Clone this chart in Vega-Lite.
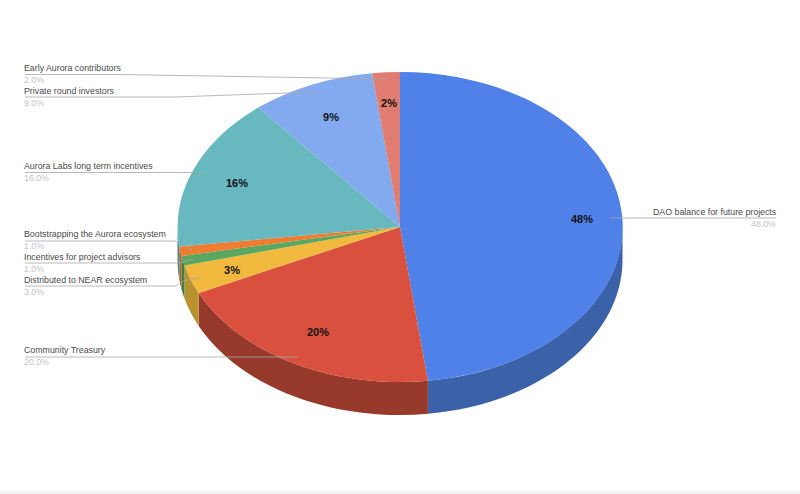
{
  "$schema": "https://vega.github.io/schema/vega-lite/v6.json",
  "width": 800,
  "height": 494,
  "autosize": {"type": "fit", "contains": "padding"},
  "padding": 0,
  "background": "#ffffff",
  "view": {"stroke": null},
  "datasets": {
    "slices": [
      {"name": "DAO balance for future projects", "share": 0.48},
      {"name": "Community Treasury", "share": 0.20},
      {"name": "Distributed to NEAR ecosystem", "share": 0.03},
      {"name": "Incentives for project advisors", "share": 0.01},
      {"name": "Bootstrapping the Aurora ecosystem", "share": 0.01},
      {"name": "Aurora Labs long term incentives", "share": 0.16},
      {"name": "Private round investors", "share": 0.09},
      {"name": "Early Aurora contributors", "share": 0.02}
    ],
    "anchors": [
      {"name": "DAO balance for future projects", "labelX": 653, "labelY": 215, "valueX": 751, "pctX": 582, "pctY": 223},
      {"name": "Community Treasury", "labelX": 24, "labelY": 353, "valueX": 24, "pctX": 318, "pctY": 336},
      {"name": "Distributed to NEAR ecosystem", "labelX": 24, "labelY": 283, "valueX": 24, "pctX": 232, "pctY": 274},
      {"name": "Incentives for project advisors", "labelX": 24, "labelY": 260, "valueX": 24},
      {"name": "Bootstrapping the Aurora ecosystem", "labelX": 24, "labelY": 237, "valueX": 24},
      {"name": "Aurora Labs long term incentives", "labelX": 24, "labelY": 169, "valueX": 24, "pctX": 237, "pctY": 187},
      {"name": "Private round investors", "labelX": 24, "labelY": 94, "valueX": 24, "pctX": 331, "pctY": 121},
      {"name": "Early Aurora contributors", "labelX": 24, "labelY": 71, "valueX": 24, "pctX": 389, "pctY": 107}
    ],
    "leaders": [
      {"name": "Early Aurora contributors", "step": 1, "px": 25, "py": 74.5},
      {"name": "Early Aurora contributors", "step": 2, "px": 120, "py": 74.5},
      {"name": "Early Aurora contributors", "step": 3, "px": 387, "py": 79},
      {"name": "Private round investors", "step": 1, "px": 25, "py": 97},
      {"name": "Private round investors", "step": 2, "px": 175, "py": 97},
      {"name": "Private round investors", "step": 3, "px": 316, "py": 92},
      {"name": "Aurora Labs long term incentives", "step": 1, "px": 25, "py": 172.5},
      {"name": "Aurora Labs long term incentives", "step": 2, "px": 204, "py": 172.5},
      {"name": "Bootstrapping the Aurora ecosystem", "step": 1, "px": 25, "py": 241},
      {"name": "Bootstrapping the Aurora ecosystem", "step": 2, "px": 175, "py": 241},
      {"name": "Bootstrapping the Aurora ecosystem", "step": 3, "px": 178, "py": 243},
      {"name": "Bootstrapping the Aurora ecosystem", "step": 4, "px": 192, "py": 250},
      {"name": "Incentives for project advisors", "step": 1, "px": 25, "py": 263},
      {"name": "Incentives for project advisors", "step": 2, "px": 180, "py": 263},
      {"name": "Incentives for project advisors", "step": 3, "px": 193, "py": 259},
      {"name": "Distributed to NEAR ecosystem", "step": 1, "px": 25, "py": 286},
      {"name": "Distributed to NEAR ecosystem", "step": 2, "px": 176, "py": 286},
      {"name": "Distributed to NEAR ecosystem", "step": 3, "px": 183, "py": 281},
      {"name": "Distributed to NEAR ecosystem", "step": 4, "px": 202, "py": 277},
      {"name": "Community Treasury", "step": 1, "px": 25, "py": 357},
      {"name": "Community Treasury", "step": 2, "px": 298, "py": 357},
      {"name": "DAO balance for future projects", "step": 1, "px": 610, "py": 218},
      {"name": "DAO balance for future projects", "step": 2, "px": 776, "py": 218}
    ]
  },
  "resolve": {"scale": {"shape": "independent", "color": "independent"}},
  "layer": [
    {
      "data": {"values": [{"band": "footer"}]},
      "mark": {"type": "rect", "color": "#f3f3f3"},
      "encoding": {
        "x": {"datum": 0, "type": "quantitative", "scale": {"domain": [0, 800], "nice": false, "zero": false}, "axis": null},
        "x2": {"datum": 800},
        "y": {"datum": 491, "type": "quantitative", "scale": {"domain": [0, 494], "reverse": true, "nice": false, "zero": false}, "axis": null},
        "y2": {"datum": 494}
      }
    },
    {
      "data": {"name": "slices"},
      "mark": {"type": "point", "filled": true, "size": 4, "opacity": 1, "strokeWidth": 0},
      "encoding": {
        "x": {"datum": 400, "type": "quantitative", "scale": {"domain": [0, 800], "nice": false, "zero": false}, "axis": null},
        "y": {"datum": 227, "type": "quantitative", "scale": {"domain": [0, 494], "reverse": true, "nice": false, "zero": false}, "axis": null},
        "color": {
          "field": "name", "type": "nominal", "legend": null,
          "scale": {
            "domain": ["DAO balance for future projects", "Community Treasury", "Distributed to NEAR ecosystem", "Incentives for project advisors", "Bootstrapping the Aurora ecosystem", "Aurora Labs long term incentives", "Private round investors", "Early Aurora contributors"],
            "range": ["#3b62a8", "#97392b", "#b8922e", "#3f7f45", "#b35f26", "#4f8a90", "#6580b4", "#a85e55"]
          }
        },
        "shape": {
          "field": "name", "type": "nominal", "legend": null,
          "scale": {
            "domain": ["DAO balance for future projects", "Community Treasury", "Distributed to NEAR ecosystem", "Incentives for project advisors", "Bootstrapping the Aurora ecosystem", "Aurora Labs long term incentives", "Private round investors", "Early Aurora contributors"],
            "range": [
              "M222.5 0A222.5 155 0 0 1 27.9 153.8L27.9 186.8A222.5 155 0 0 0 222.5 33Z",
              "M27.9 153.8A222.5 155 0 0 1 -201.3 66L-201.3 99A222.5 155 0 0 0 27.9 186.8Z",
              "M-201.3 66A222.5 155 0 0 1 -215.5 38.5L-215.5 71.5A222.5 155 0 0 0 -201.3 99Z",
              "M-215.5 38.5A222.5 155 0 0 1 -218.6 29L-218.6 62A222.5 155 0 0 0 -215.5 71.5Z",
              "M-218.6 29A222.5 155 0 0 1 -220.7 19.4L-220.7 52.4A222.5 155 0 0 0 -218.6 62Z",
              "M-220.7 19.4A222.5 155 0 0 1 -222.5 0L-222.5 33A222.5 155 0 0 0 -220.7 52.4Z",
              "M0 0Z",
              "M0 0Z"
            ]
          }
        }
      }
    },
    {
      "data": {"name": "slices"},
      "mark": {"type": "point", "filled": true, "size": 4, "opacity": 1, "strokeWidth": 0},
      "encoding": {
        "x": {"datum": 400, "type": "quantitative", "scale": {"domain": [0, 800], "nice": false, "zero": false}, "axis": null},
        "y": {"datum": 227, "type": "quantitative", "scale": {"domain": [0, 494], "reverse": true, "nice": false, "zero": false}, "axis": null},
        "color": {
          "field": "name", "type": "nominal", "legend": null,
          "scale": {
            "domain": ["DAO balance for future projects", "Community Treasury", "Distributed to NEAR ecosystem", "Incentives for project advisors", "Bootstrapping the Aurora ecosystem", "Aurora Labs long term incentives", "Private round investors", "Early Aurora contributors"],
            "range": ["#4f81e8", "#d9513e", "#f1b93e", "#5aa85f", "#ee7d31", "#68b8c0", "#83a9ee", "#e07c70"]
          }
        },
        "shape": {
          "field": "name", "type": "nominal", "legend": null,
          "scale": {
            "domain": ["DAO balance for future projects", "Community Treasury", "Distributed to NEAR ecosystem", "Incentives for project advisors", "Bootstrapping the Aurora ecosystem", "Aurora Labs long term incentives", "Private round investors", "Early Aurora contributors"],
            "range": [
              "M0 0L0 -155A222.5 155 0 0 1 27.9 153.8Z",
              "M0 0L27.9 153.8A222.5 155 0 0 1 -201.3 66Z",
              "M0 0L-201.3 66A222.5 155 0 0 1 -215.5 38.5Z",
              "M0 0L-215.5 38.5A222.5 155 0 0 1 -218.6 29Z",
              "M0 0L-218.6 29A222.5 155 0 0 1 -220.7 19.4Z",
              "M0 0L-220.7 19.4A222.5 155 0 0 1 -141.8 -119.4Z",
              "M0 0L-141.8 -119.4A222.5 155 0 0 1 -27.9 -153.8Z",
              "M0 0L-27.9 -153.8A222.5 155 0 0 1 0 -155Z"
            ]
          }
        }
      }
    },
    {
      "data": {"name": "leaders"},
      "mark": {"type": "line", "color": "#a8a8a8", "strokeWidth": 0.8, "interpolate": "linear"},
      "encoding": {
        "x": {"field": "px", "type": "quantitative", "scale": {"domain": [0, 800], "nice": false, "zero": false}, "axis": null},
        "y": {"field": "py", "type": "quantitative", "scale": {"domain": [0, 494], "reverse": true, "nice": false, "zero": false}, "axis": null},
        "detail": {"field": "name", "type": "nominal"},
        "order": {"field": "step", "type": "quantitative"}
      }
    },
    {
      "data": {"name": "slices"},
      "transform": [{"lookup": "name", "from": {"data": {"name": "anchors"}, "key": "name", "fields": ["labelX", "labelY", "valueX", "pctX", "pctY"]}}],
      "mark": {"type": "text", "align": "left", "baseline": "alphabetic", "font": "Liberation Sans", "fontSize": 8.8, "color": "#4a4a4a"},
      "encoding": {
        "x": {"field": "labelX", "type": "quantitative", "scale": {"domain": [0, 800], "nice": false, "zero": false}, "axis": null},
        "y": {"field": "labelY", "type": "quantitative", "scale": {"domain": [0, 494], "reverse": true, "nice": false, "zero": false}, "axis": null},
        "text": {"field": "name", "type": "nominal"}
      }
    },
    {
      "data": {"name": "slices"},
      "transform": [{"lookup": "name", "from": {"data": {"name": "anchors"}, "key": "name", "fields": ["labelX", "labelY", "valueX", "pctX", "pctY"]}}],
      "mark": {"type": "text", "align": "left", "baseline": "alphabetic", "font": "Liberation Sans", "fontSize": 8.8, "color": "#c4c4c4", "dy": 12},
      "encoding": {
        "x": {"field": "valueX", "type": "quantitative", "scale": {"domain": [0, 800], "nice": false, "zero": false}, "axis": null},
        "y": {"field": "labelY", "type": "quantitative", "scale": {"domain": [0, 494], "reverse": true, "nice": false, "zero": false}, "axis": null},
        "text": {"field": "share", "type": "quantitative", "format": ".1%"}
      }
    },
    {
      "data": {"name": "slices"},
      "transform": [
        {"filter": "datum.share > 0.01"},
        {"lookup": "name", "from": {"data": {"name": "anchors"}, "key": "name", "fields": ["pctX", "pctY"]}}
      ],
      "mark": {"type": "text", "align": "center", "baseline": "alphabetic", "font": "Liberation Sans", "fontSize": 11, "fontWeight": "bold", "color": "#111111"},
      "encoding": {
        "x": {"field": "pctX", "type": "quantitative", "scale": {"domain": [0, 800], "nice": false, "zero": false}, "axis": null},
        "y": {"field": "pctY", "type": "quantitative", "scale": {"domain": [0, 494], "reverse": true, "nice": false, "zero": false}, "axis": null},
        "text": {"field": "share", "type": "quantitative", "format": ".0%"}
      }
    }
  ]
}
